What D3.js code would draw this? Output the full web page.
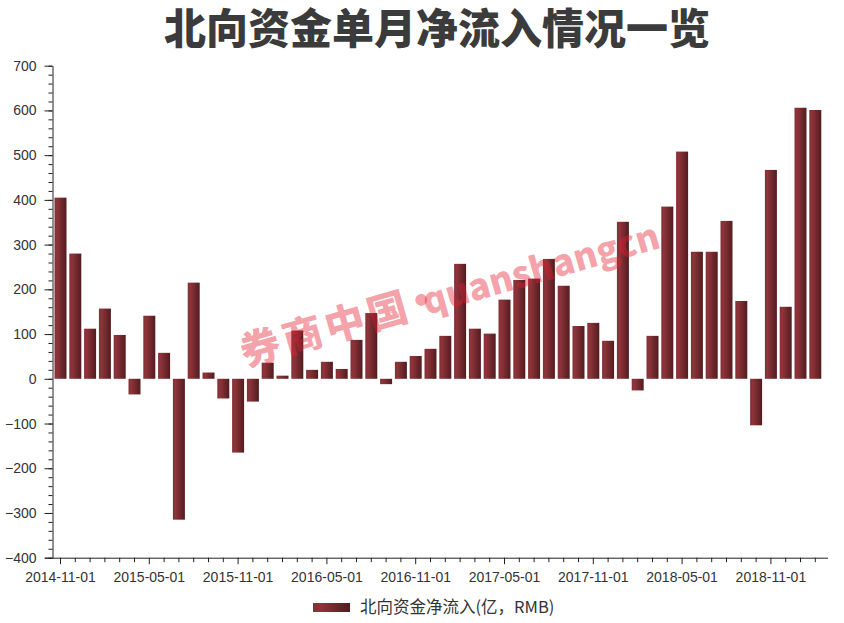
<!DOCTYPE html>
<html>
<head>
<meta charset="utf-8">
<script src="https://cdn.jsdelivr.net/npm/d3@7"></script>
<style>
  html, body { margin: 0; padding: 0; background: #ffffff; }
  svg { display: block; }
</style>
</head>
<body>
<svg id="chart" width="844" height="623"></svg>
<script>
const title = "北向资金单月净流入情况一览";
const seriesName = "北向资金净流入(亿，RMB)";
const watermarkParts = ["券商中国", "·", "quanshangcn"];

const months = [
  "2014-11-01","2014-12-01","2015-01-01","2015-02-01","2015-03-01","2015-04-01",
  "2015-05-01","2015-06-01","2015-07-01","2015-08-01","2015-09-01","2015-10-01",
  "2015-11-01","2015-12-01","2016-01-01","2016-02-01","2016-03-01","2016-04-01",
  "2016-05-01","2016-06-01","2016-07-01","2016-08-01","2016-09-01","2016-10-01",
  "2016-11-01","2016-12-01","2017-01-01","2017-02-01","2017-03-01","2017-04-01",
  "2017-05-01","2017-06-01","2017-07-01","2017-08-01","2017-09-01","2017-10-01",
  "2017-11-01","2017-12-01","2018-01-01","2018-02-01","2018-03-01","2018-04-01",
  "2018-05-01","2018-06-01","2018-07-01","2018-08-01","2018-09-01","2018-10-01",
  "2018-11-01","2018-12-01","2019-01-01","2019-02-01"
];

const netInflow = [
  405, 280, 112, 157, 98, -35,
  141, 58, -315, 215, 14, -44,
  -165, -51, 36, 7, 108, 20,
  38, 22, 87, 147, -12, 38,
  51, 67, 96, 257, 112, 101,
  177, 221, 224, 268, 208, 118,
  125, 85, 351, -26, 96, 385,
  508, 284, 284, 353, 174, -104,
  467, 161, 606, 601
];

const xTickLabels = ["2014-11-01","2015-05-01","2015-11-01","2016-05-01","2016-11-01","2017-05-01","2017-11-01","2018-05-01","2018-11-01"];
const yTickValues = [-400, -300, -200, -100, 0, 100, 200, 300, 400, 500, 600, 700];
const yDomain = [-400, 700];

const svg = d3.select("#chart");
const axisColor = "#222";
const textColor = "#333";
const labelFont = "Arial, 'Liberation Sans', sans-serif";

const defs = svg.append("defs");
const grad = defs.append("linearGradient").attr("id", "barGrad")
  .attr("x1", "0%").attr("x2", "100%").attr("y1", "0%").attr("y2", "0%");
grad.append("stop").attr("offset", "0%").attr("stop-color", "#823036");
grad.append("stop").attr("offset", "22%").attr("stop-color", "#8e343a");
grad.append("stop").attr("offset", "100%").attr("stop-color", "#521c1f");

const x = d3.scalePoint().domain(months).range([60, 814.8]);
const barW = x.step() * 0.81;
const y = d3.scaleLinear().domain(yDomain).range([557.7, 65.7]);

// title
svg.append("text")
  .attr("x", 437).attr("y", 44)
  .attr("text-anchor", "middle")
  .attr("font-family", "'Noto Sans CJK SC', sans-serif")
  .attr("font-weight", 900)
  .attr("font-size", 42)
  .attr("fill", "#3b3b3b")
  .text(title);

// bars
svg.append("g").selectAll("rect")
  .data(months.map((m, i) => ({ m, v: netInflow[i] })))
  .join("rect")
  .attr("x", d => x(d.m) - barW / 2 + 0.5)
  .attr("width", barW)
  .attr("y", d => y(Math.max(0, d.v)))
  .attr("height", d => Math.abs(y(d.v) - y(0)))
  .attr("fill", "url(#barGrad)");

// y axis minor ticks
const yMinor = d3.range(yDomain[0], yDomain[1] + 1, 20);
svg.append("g")
  .attr("transform", "translate(52.5,0)")
  .call(d3.axisLeft(y).tickValues(yMinor).tickSize(4).tickFormat(""))
  .call(g => g.select(".domain").remove())
  .call(g => g.selectAll("line").attr("stroke", axisColor));

// y axis major
svg.append("g")
  .attr("transform", "translate(52.5,0)")
  .call(d3.axisLeft(y).tickValues(yTickValues).tickSize(8).tickPadding(8).tickSizeOuter(0))
  .call(g => g.select(".domain").attr("stroke", axisColor))
  .call(g => g.selectAll("line").attr("stroke", axisColor))
  .call(g => g.selectAll("text")
    .attr("font-family", labelFont).attr("font-size", 14).attr("fill", textColor));

// x axis
const xAxis = svg.append("g")
  .attr("transform", "translate(0,557.7)")
  .call(d3.axisBottom(x).tickValues(months).tickSizeOuter(0)
    .tickFormat(m => xTickLabels.includes(m) ? m : ""))
  .call(g => g.select(".domain").remove());
xAxis.selectAll(".tick line")
  .attr("stroke", axisColor)
  .attr("y2", m => xTickLabels.includes(m) ? 6.5 : 4.5);
xAxis.selectAll(".tick text")
  .attr("y", 14)
  .attr("font-family", labelFont).attr("font-size", 14).attr("fill", textColor);
xAxis.append("line")
  .attr("x1", 45).attr("x2", 828)
  .attr("y1", 0.5).attr("y2", 0.5)
  .attr("stroke", axisColor);

// legend
svg.append("rect")
  .attr("x", 313).attr("y", 603).attr("width", 37).attr("height", 9)
  .attr("fill", "url(#barGrad)");
svg.append("text")
  .attr("x", 360).attr("y", 613)
  .attr("font-family", "'Noto Sans CJK SC', sans-serif")
  .attr("font-size", 16.5)
  .attr("fill", textColor)
  .text(seriesName);

// watermark
const wm = svg.append("text")
  .attr("transform", "translate(245,367) rotate(-16)")
  .attr("font-family", "'Noto Sans CJK SC', sans-serif")
  .attr("font-weight", 900)
  .attr("fill", "rgba(228,30,50,0.42)");
wm.append("tspan")
  .attr("font-size", 40)
  .attr("letter-spacing", 4)
  .text(watermarkParts[0]);
wm.append("tspan")
  .attr("dx", -9)
  .attr("font-size", 42)
  .text(watermarkParts[1]);
wm.append("tspan")
  .attr("dx", -20)
  .attr("font-size", 36)
  .text(watermarkParts[2]);
</script>
</body>
</html>
